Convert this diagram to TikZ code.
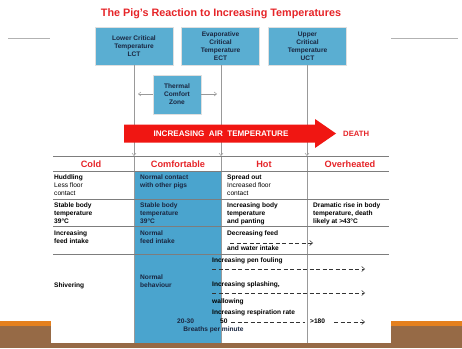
\documentclass[tikz,border=0pt]{standalone}
\usepackage{fontspec}
\setmainfont{Liberation Sans}
\usepackage{tikz}
\usetikzlibrary{arrows.meta}
\definecolor{pigred}{RGB}{230,36,40}
\definecolor{arrowred}{RGB}{240,22,18}
\definecolor{zoneblue}{RGB}{74,164,206}
\definecolor{boxblue}{RGB}{90,174,210}
\definecolor{inkblue}{RGB}{26,38,64}
\definecolor{rulegray}{RGB}{125,125,125}
\definecolor{bandorange}{RGB}{228,128,30}
\definecolor{bandbrown}{RGB}{150,106,70}
\newcommand{\cellfont}[0]{\fontsize{6.6}{8}\selectfont}
\newcommand{\rowline}[1]{\draw[rule] (53,#1) -- (389,#1);}
\tikzset{
  tempbox/.style={draw=white!75!gray, fill=boxblue, minimum width=78pt, minimum height=38pt,
    inner sep=0pt, align=center, text=inkblue, font=\cellfont\bfseries},
  cell/.style={anchor=north west, inner sep=0pt, align=left, font=\cellfont},
  boldcell/.style={cell, font=\cellfont\bfseries},
  head/.style={inner sep=0pt, text=pigred, font=\fontsize{9.2}{11}\selectfont\bfseries},
  rule/.style={draw=rulegray, line width=0.6pt},
  guide/.style={draw=gray!80, line width=0.5pt},
  tick/.style={guide, -{Straight Barb[length=2.5pt,width=4pt]}},
  trend/.style={draw=black!80, line width=0.5pt, dash pattern=on 4pt off 2.5pt,
    -{Straight Barb[length=3pt,width=5pt]}}
}
\begin{document}
\begin{tikzpicture}[x=1pt,y=-1pt]
\useasboundingbox (0,0) rectangle (462,348);
\fill[white] (0,0) rectangle (462,348);
\fill[bandorange] (0,321) rectangle (462,326);
\fill[bandbrown] (0,326) rectangle (462,348);
\fill[white] (51,0) rectangle (391,343);
\draw[gray!60, line width=0.6pt] (8,38) -- (50,38) (391,38) -- (458,38);
\node[text=pigred, font=\fontsize{10.8}{12}\selectfont\bfseries] (title) at (221,14)
  {The Pig's Reaction to Increasing Temperatures};

\fill[zoneblue] (134,171) rectangle (221,343);

\node[tempbox] (lct) at (134,46) {Lower Critical\\Temperature\\LCT};
\node[tempbox] (ect) at (220.5,46) {Evaporative\\Critical\\Temperature\\ECT};
\node[tempbox] (uct) at (307.5,46) {Upper\\Critical\\Temperature\\UCT};
\node[tempbox, minimum width=48pt, minimum height=39pt] (tcz) at (177,94.5) {Thermal\\Comfort\\Zone};

\coordinate (lctTop) at (134,156);
\coordinate (ectTop) at (221,156);
\coordinate (uctTop) at (307,156);
\coordinate (lctEnd) at (134,343);
\coordinate (ectEnd) at (221,343);
\coordinate (uctEnd) at (307,343);
\coordinate (zoneL) at (138,94);
\coordinate (zoneR) at (217,94);
\draw[tick] (lct.south) -- (lctTop);
\draw[tick] (ect.south -| ectTop) -- (ectTop);
\draw[tick] (uct.south -| uctTop) -- (uctTop);
\draw[guide] (lctTop) -- (lctEnd) (ectTop) -- (ectEnd) (uctTop) -- (uctEnd);
\draw[tick] (tcz.west |- zoneL) -- (zoneL);
\draw[tick] (tcz.east |- zoneR) -- (zoneR);

\fill[arrowred] (124,124.5) -- (315,124.5) -- (315,119) -- (336,133.5) -- (315,148) -- (315,142.5) -- (124,142.5) -- cycle;
\node[text=white, font=\fontsize{8.1}{9}\selectfont\bfseries] (air) at (221,134) {INCREASING~~AIR~~TEMPERATURE};
\node[anchor=west, inner sep=0pt, text=pigred, font=\fontsize{7.7}{9}\selectfont\bfseries] (death) at (343,134) {DEATH};

\rowline{156}
\rowline{171}
\rowline{199}
\rowline{226}
\rowline{254}
\node[head] (cold) at (91,164) {Cold};
\node[head] (comf) at (178,164) {Comfortable};
\node[head] (hot) at (264,164) {Hot};
\node[head] (over) at (350,164) {Overheated};

\node[cell] (c1) at (54,175) {\textbf{Huddling}\\Less floor\\contact};
\node[boldcell, text=inkblue] (m1) at (140,175) {Normal contact\\with other pigs};
\node[cell] (h1) at (227,175) {\textbf{Spread out}\\Increased floor\\contact};

\node[boldcell] (c2) at (54,203) {Stable body\\temperature\\39°C};
\node[boldcell, text=inkblue] (m2) at (140,203) {Stable body\\temperature\\39°C};
\node[boldcell] (h2) at (227,203) {Increasing body\\temperature\\and panting};
\node[boldcell] (o2) at (313,203) {Dramatic rise in body\\temperature, death\\likely at >43°C};

\node[boldcell] (c3) at (54,231) {Increasing\\feed intake};
\node[boldcell, text=inkblue] (m3) at (140,231) {Normal\\feed intake};
\node[boldcell] (feed) at (227,231) {Decreasing feed};
\node[boldcell] (water) at (227,246) {and water intake};
\coordinate (feedStart) at (230,243);
\coordinate (feedEnd) at (313,243);
\draw[trend] (feedStart) -- (feedEnd);

\node[boldcell] (shiver) at (54,283) {Shivering};
\node[boldcell, text=inkblue] (m4) at (140,275) {Normal\\behaviour};
\node[boldcell] (foul) at (212,258) {Increasing pen fouling};
\coordinate (foulStart) at (212,269);
\coordinate (foulEnd) at (365,269);
\draw[trend] (foulStart) -- (foulEnd);
\node[boldcell] (splash) at (212,282) {Increasing splashing,};
\coordinate (splashStart) at (212,293);
\coordinate (splashEnd) at (365,293);
\draw[trend] (splashStart) -- (splashEnd);
\node[boldcell] (wallow) at (212,299) {wallowing};
\node[boldcell] (resp) at (212,310) {Increasing respiration rate};
\node[boldcell, text=inkblue] (low) at (177,318.5) {20-30};
\node[boldcell] (fifty) at (220,318.5) {50};
\node[boldcell] (high) at (310,318.5) {>180};
\coordinate (respA) at (231,322);
\coordinate (respB) at (305,322);
\coordinate (respC) at (334,322);
\coordinate (respEnd) at (365,322);
\draw[trend, -] (respA) -- (respB);
\draw[trend] (respC) -- (respEnd);
\node[boldcell, anchor=north, text=inkblue] (breaths) at (213.5,327) {Breaths per minute};
\end{tikzpicture}
\end{document}
